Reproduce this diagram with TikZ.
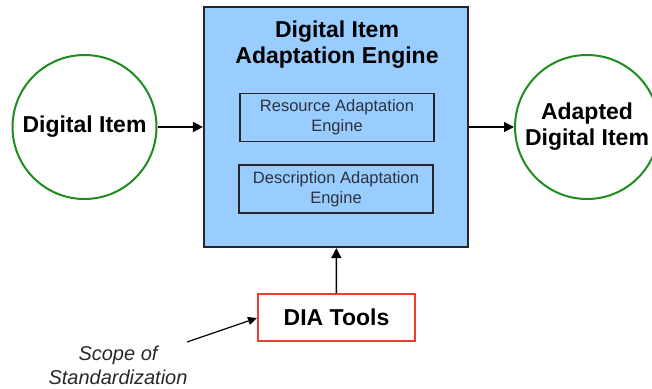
\documentclass[tikz,border=0pt]{standalone}
\usepackage{fontspec}
\setmainfont{Liberation Sans}
\usetikzlibrary{arrows.meta}
\definecolor{circgreen}{RGB}{30,140,30}
\definecolor{boxblue}{RGB}{153,204,255}
\definecolor{diared}{RGB}{240,60,45}
\definecolor{innertext}{RGB}{45,50,60}
\definecolor{scopegray}{RGB}{40,40,40}
\tikzset{
  circ/.style={circle, draw=circgreen, line width=2pt, fill=white, minimum size=144pt, inner sep=0pt, align=center, font=\fontsize{23}{26}\selectfont\bfseries},
  engine/.style={draw=black!85, line width=2.2pt, fill=boxblue, minimum width=264pt, minimum height=240pt, inner sep=0pt},
  subbox/.style={draw=black!85, line width=1.7pt, fill=boxblue, minimum width=194pt, minimum height=48pt, inner sep=0pt, align=center, text=innertext, font=\fontsize{16.5}{20}\selectfont},
  toolbox/.style={draw=diared, line width=2pt, fill=white, minimum width=157pt, minimum height=47pt, inner sep=0pt, font=\fontsize{23}{26}\selectfont\bfseries},
  conn/.style={line width=1.6pt, -{Triangle[length=10pt,width=10pt]}},
}
\begin{document}
\begin{tikzpicture}[x=1pt,y=-1pt]
\useasboundingbox (0,0) rectangle (652,388);
\node[engine] (eng) at (336,127) {};
\node[align=center, font=\fontsize{23}{26}\selectfont\bfseries, anchor=center] (title) at (337,45) {Digital Item\\Adaptation Engine};
\node[subbox] (rae) at (337,117.5) {Resource Adaptation\\Engine};
\node[subbox] (dae) at (336,189) {Description Adaptation\\Engine};
\node[circ] (di) at (84.5,127) {Digital Item};
\node[circ] (adi) at (587,127) {Adapted\\Digital Item};
\node[toolbox] (dia) at (336.5,317.5) {DIA Tools};
\node[align=center, font=\fontsize{20}{24}\selectfont\itshape, text=scopegray] (scope) at (118,365) {Scope of\\Standardization};
\coordinate (sstart) at (187,342);
\draw[conn] (di) -- (eng);
\draw[conn] (eng.east) -- (adi);
\draw[conn] (dia) -- (eng);
\draw[conn, line width=1.2pt, -{Triangle[length=9pt,width=8pt]}] (sstart) -- (dia.west |- 0,318);
\end{tikzpicture}
\end{document}
